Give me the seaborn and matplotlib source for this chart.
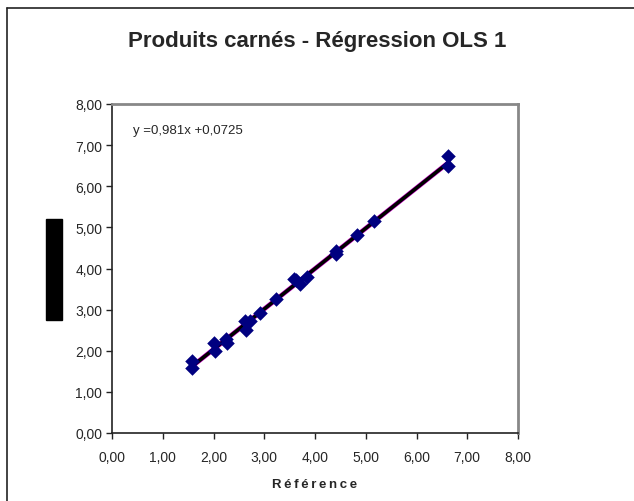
import seaborn as sb
import numpy as np
import matplotlib.pyplot as plt
import pandas as pd
from matplotlib.ticker import FuncFormatter
from matplotlib.lines import Line2D
from matplotlib.patches import Rectangle

# data
reference = [1.57, 1.57, 2.00, 2.02, 2.24, 2.26, 2.63, 2.64, 2.72, 2.92, 3.24,
             3.58, 3.63, 3.70, 3.85, 4.41, 4.42, 4.83, 5.16, 6.63, 6.63]
mesure = [1.76, 1.58, 2.20, 2.00, 2.28, 2.18, 2.72, 2.50, 2.73, 2.91, 3.25,
          3.74, 3.72, 3.63, 3.80, 4.42, 4.36, 4.82, 5.15, 6.73, 6.49]
slope = 0.981
intercept = 0.0725
ticks = [0, 1, 2, 3, 4, 5, 6, 7, 8]

df = pd.DataFrame({"Référence": reference, "Mesure": mesure})

sb.set_style("white")
plt.rcParams['font.family'] = ['Liberation Sans', 'DejaVu Sans']

fig = plt.figure(figsize=(6.34, 5.02), dpi=100)
ax = fig.add_axes([112 / 634, 68 / 502, 406 / 634, 329 / 502])

# trend line (magenta trendline under black line)
xl = np.array([min(reference), max(reference)])
ax.plot(xl, slope * xl + intercept, color='#cc00cc', lw=3.4, zorder=2)
ax.plot(xl, slope * xl + intercept, color='black', lw=2.6, zorder=3)

sb.scatterplot(x="Référence", y="Mesure", data=df, marker='D', s=55,
               color='#000080', edgecolor='#000080', linewidth=0, ax=ax, zorder=4)

ax.set_xlim(0, 8)
ax.set_ylim(0, 8)
ax.set_xticks(ticks)
ax.set_yticks(ticks)
fmt = FuncFormatter(lambda v, p: f"{v:.2f}".replace('.', ','))
ax.xaxis.set_major_formatter(fmt)
ax.yaxis.set_major_formatter(fmt)
ax.tick_params(axis='both', direction='out', length=4, width=1, color='#222222',
               labelsize=10, pad=3, bottom=True, left=True)
ax.tick_params(axis='x', pad=8)

for side in ['left', 'bottom']:
    ax.spines[side].set_color('#222222')
    ax.spines[side].set_linewidth(1.2)
for side in ['top', 'right']:
    ax.spines[side].set_visible(True)
    ax.spines[side].set_color('#888888')
    ax.spines[side].set_linewidth(2)

ax.set_xlabel("R\u2009é\u2009f\u2009é\u2009r\u2009e\u2009n\u2009c\u2009e", fontsize=9.5,
              fontweight='bold', labelpad=10)
ax.set_ylabel("")

ax.text(0.41, 7.37, "y =0,981x +0,0725", fontsize=9.5, ha='left', va='center')

fig.text(0.5, 1 - 42 / 502, "Produits carnés - Régression OLS 1", fontsize=16,
         fontweight='bold', ha='center', va='center')

# black box where the y label stands
fig.add_artist(Rectangle((46 / 634, 1 - 321 / 502), 16 / 634, 101 / 502,
                         transform=fig.transFigure, color='black'))

# outer chart frame (cut at right and bottom)
fig.add_artist(Line2D([7 / 634, 1.0], [1 - 9 / 502, 1 - 9 / 502],
                      transform=fig.transFigure, color='#222222', lw=1.2))
fig.add_artist(Line2D([7 / 634, 7 / 634], [0, 1 - 9 / 502],
                      transform=fig.transFigure, color='#222222', lw=1.2))

fig.savefig("out.png", dpi=100)
